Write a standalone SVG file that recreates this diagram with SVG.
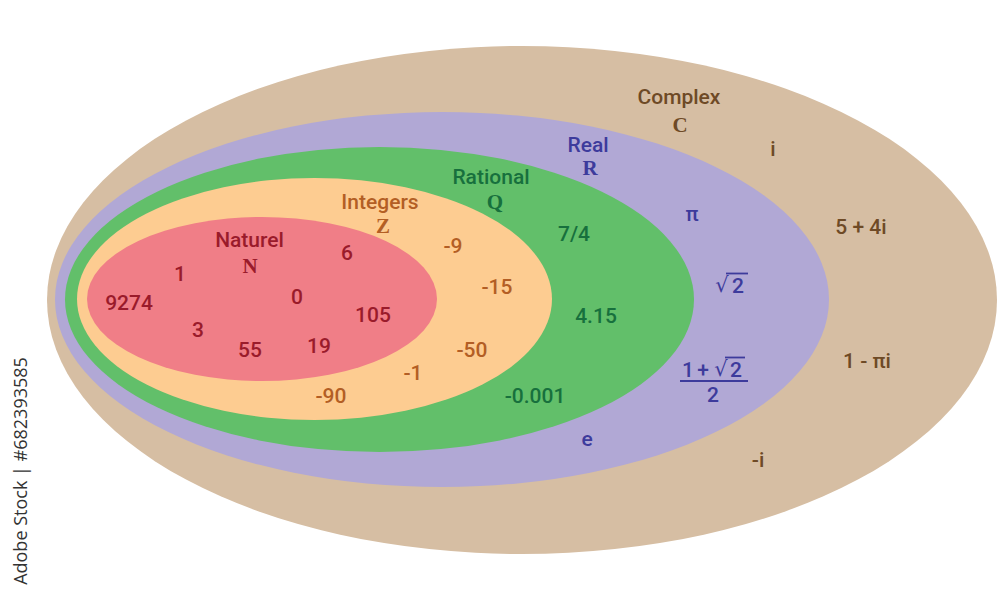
<svg xmlns="http://www.w3.org/2000/svg" width="1000" height="599" viewBox="0 0 1000 599">
<style>
text{font-family:Roboto,"Liberation Sans",sans-serif;font-size:21px;font-weight:500;text-anchor:middle}
.bb{font-family:"Liberation Serif","DejaVu Serif",serif;font-weight:bold;font-size:21px}
.c{fill:#6e4a26}.r{fill:#3d3b9c}.q{fill:#17703d}.z{fill:#b35e24}.n{fill:#9a1b2b}
.rad{font-family:"DejaVu Sans",sans-serif;font-weight:normal}
.wm{font-family:"Open Sans","Liberation Sans",sans-serif;font-size:18px;font-weight:normal;fill:#333}
</style>
<rect width="1000" height="599" fill="#ffffff"/>
<g id="complex">
<ellipse cx="522" cy="300" rx="475" ry="254" fill="#d6bea3"/>
<text class="c" x="679" y="104">Complex</text>
<text class="c bb" x="680" y="132">C</text>
<text class="c" x="773" y="156">i</text>
<text class="c" x="861" y="234">5 + 4i</text>
<text class="c" x="867" y="368">1 - πi</text>
<text class="c" x="758" y="467">-i</text>
</g>
<g id="real">
<ellipse cx="442" cy="299.5" rx="387" ry="187.5" fill="#b1a8d5"/>
<text class="r" x="588" y="152">Real</text>
<text class="r bb" x="590" y="175">R</text>
<text class="r" x="692" y="221">π</text>
<text class="r rad" x="722" y="292">√</text>
<text class="r" x="738" y="293">2</text>
<line x1="726" y1="273.5" x2="748" y2="273.5" stroke="#3d3b9c" stroke-width="1.8"/>
<text class="r" x="688" y="377">1</text>
<text class="r" x="703" y="377">+</text>
<text class="r rad" x="721" y="376">√</text>
<text class="r" x="736" y="377">2</text>
<line x1="725" y1="357.5" x2="745" y2="357.5" stroke="#3d3b9c" stroke-width="1.8"/>
<line x1="680" y1="381" x2="748" y2="381" stroke="#3d3b9c" stroke-width="2"/>
<text class="r" x="713" y="402">2</text>
<text class="r" x="587" y="446">e</text>
</g>
<g id="rational">
<ellipse cx="379.5" cy="299.5" rx="314.5" ry="152.5" fill="#62bf6a"/>
<text class="q" x="491" y="184">Rational</text>
<text class="q bb" x="495" y="209">Q</text>
<text class="q" x="574" y="241">7/4</text>
<text class="q" x="596" y="323">4.15</text>
<text class="q" x="535" y="403">-0.001</text>
</g>
<g id="integers">
<ellipse cx="314.5" cy="299" rx="237.5" ry="121" fill="#fdcc91"/>
<text class="z" x="380" y="209">Integers</text>
<text class="z bb" x="383" y="233">Z</text>
<text class="z" x="453" y="253">-9</text>
<text class="z" x="497" y="294">-15</text>
<text class="z" x="472" y="357">-50</text>
<text class="z" x="413" y="380">-1</text>
<text class="z" x="331" y="403">-90</text>
</g>
<g id="naturel">
<ellipse cx="262" cy="299" rx="175" ry="82" fill="#f07e87"/>
<text class="n" x="249.5" y="247">Naturel</text>
<text class="n bb" x="250" y="273">N</text>
<text class="n" x="180" y="281">1</text>
<text class="n" x="347" y="260">6</text>
<text class="n" x="129" y="310">9274</text>
<text class="n" x="297" y="304">0</text>
<text class="n" x="373" y="322">105</text>
<text class="n" x="198" y="337">3</text>
<text class="n" x="250" y="357">55</text>
<text class="n" x="319" y="353">19</text>
</g>
<g id="connectors"/>
<text class="wm" transform="translate(27,471) rotate(-90)">Adobe Stock | #682393585</text>
</svg>
